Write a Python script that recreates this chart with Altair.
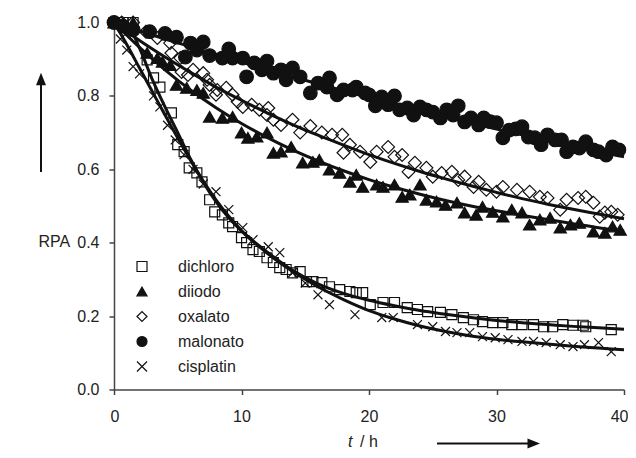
import altair as alt
import pandas as pd

series_names = ["dichloro", "diiodo", "oxalato", "malonato", "cisplatin"]

# measured points (t / h, RPA)
dichloro_pts = [(0, 1.0), (0.7, 1.0), (1.5, 1.0), (2.6, 0.898), (3.1, 0.849), (3.6, 0.824), (4.5, 0.754),
                (5.0, 0.667), (5.5, 0.648), (5.9, 0.604), (6.5, 0.59), (6.9, 0.566), (7.5, 0.517), (7.9, 0.484),
                (8.5, 0.476), (9.0, 0.454), (9.3, 0.444), (10.0, 0.414), (10.4, 0.40), (10.9, 0.381), (11.4, 0.376),
                (12.0, 0.359), (12.5, 0.346), (13.0, 0.332), (13.5, 0.327), (14.0, 0.318), (14.6, 0.321),
                (15.1, 0.294), (15.6, 0.294), (16.3, 0.291), (16.9, 0.28), (17.7, 0.272), (18.5, 0.267),
                (19.0, 0.264), (19.5, 0.264), (20.1, 0.231), (21.1, 0.237), (22.0, 0.237), (23.0, 0.223),
                (23.8, 0.218), (24.6, 0.212), (25.6, 0.21), (26.5, 0.204), (27.4, 0.196), (28.2, 0.19),
                (28.9, 0.185), (29.7, 0.182), (30.5, 0.182), (31.2, 0.177), (32.0, 0.177), (32.9, 0.177),
                (33.7, 0.171), (34.4, 0.171), (35.2, 0.177), (36.0, 0.175), (36.8, 0.175), (37.0, 0.171),
                (39.0, 0.163)]
diiodo_pts = [(0, 1.0), (0.7, 1.0), (1.5, 1.0), (2.6, 0.917), (3.4, 0.903), (3.8, 0.893), (4.4, 0.884),
              (4.9, 0.83), (5.7, 0.822), (6.5, 0.816), (7.0, 0.808), (7.5, 0.743), (8.5, 0.74), (9.3, 0.743),
              (10.0, 0.70), (10.5, 0.686), (11.2, 0.689), (12.0, 0.70), (12.5, 0.645), (13.1, 0.648),
              (13.9, 0.661), (14.8, 0.618), (15.6, 0.62), (16.1, 0.626), (16.9, 0.599), (17.7, 0.59),
              (18.5, 0.566), (19.0, 0.585), (19.5, 0.552), (20.6, 0.558), (21.1, 0.552), (22.0, 0.558),
              (22.6, 0.525), (23.2, 0.531), (24.0, 0.558), (24.5, 0.517), (25.3, 0.512), (26.0, 0.503),
              (26.9, 0.509), (27.5, 0.482), (28.4, 0.476), (28.9, 0.498), (29.7, 0.484), (30.5, 0.471),
              (31.2, 0.49), (32.0, 0.482), (32.6, 0.449), (33.4, 0.463), (34.2, 0.468), (35.0, 0.441),
              (35.8, 0.449), (36.5, 0.454), (37.6, 0.43), (38.5, 0.427), (39.1, 0.444), (39.7, 0.435)]
oxalato_pts = [(0, 1.0), (0.6, 1.0), (1.5, 1.0), (2.5, 0.975), (3.4, 0.958), (4.4, 0.944), (4.5, 0.917),
               (5.2, 0.903), (5.3, 0.865), (5.8, 0.857), (6.2, 0.871), (7.0, 0.862), (7.3, 0.844), (7.5, 0.83),
               (8.0, 0.803), (8.1, 0.816), (8.8, 0.822), (9.3, 0.803), (9.7, 0.784), (10.1, 0.77), (10.8, 0.776),
               (11.4, 0.762), (12.0, 0.748), (12.1, 0.767), (12.5, 0.735), (13.1, 0.721), (14.0, 0.735),
               (14.6, 0.70), (15.4, 0.718), (16.3, 0.70), (17.1, 0.694), (17.9, 0.694), (18.0, 0.645),
               (18.5, 0.667), (19.3, 0.648), (20.1, 0.62), (20.6, 0.648), (21.5, 0.661), (22.0, 0.634),
               (22.6, 0.639), (23.1, 0.593), (23.6, 0.618), (24.5, 0.604), (25.0, 0.58), (25.7, 0.59),
               (26.5, 0.593), (27.0, 0.571), (27.5, 0.58), (28.2, 0.552), (28.6, 0.566), (29.2, 0.544),
               (30.0, 0.539), (30.5, 0.552), (31.6, 0.544), (32.6, 0.539), (33.4, 0.525), (34.0, 0.522),
               (35.0, 0.49), (35.5, 0.517), (36.4, 0.522), (37.0, 0.525), (37.6, 0.509), (38.1, 0.471),
               (38.5, 0.482), (39.0, 0.484), (39.5, 0.476)]
malonato_pts = [(0, 1.0), (0.7, 0.99), (1.5, 0.98), (2.8, 0.975), (4.0, 0.97), (4.9, 0.96), (5.6, 0.906),
                (6.0, 0.944), (6.5, 0.925), (7.0, 0.947), (7.5, 0.91), (8.5, 0.903), (9.0, 0.928), (9.3, 0.903),
                (10.1, 0.903), (10.4, 0.852), (11.0, 0.89), (11.6, 0.871), (12.0, 0.895), (12.5, 0.862),
                (13.1, 0.871), (13.5, 0.844), (14.0, 0.876), (14.6, 0.852), (15.4, 0.808), (16.0, 0.835),
                (16.7, 0.824), (16.9, 0.849), (17.5, 0.803), (18.0, 0.816), (18.7, 0.816), (19.0, 0.824),
                (19.7, 0.808), (20.0, 0.803), (20.5, 0.773), (21.0, 0.797), (21.5, 0.776), (22.0, 0.80),
                (22.4, 0.762), (23.0, 0.767), (23.5, 0.748), (24.0, 0.77), (24.5, 0.762), (25.0, 0.756),
                (25.6, 0.74), (26.1, 0.762), (26.6, 0.748), (27.0, 0.773), (27.5, 0.729), (28.0, 0.74),
                (28.6, 0.721), (29.0, 0.74), (29.5, 0.73), (30.0, 0.727), (30.5, 0.686), (31.0, 0.707),
                (31.5, 0.71), (32.0, 0.716), (32.5, 0.688), (33.0, 0.686), (33.5, 0.667), (34.0, 0.694),
                (34.6, 0.68), (35.1, 0.68), (35.5, 0.648), (36.0, 0.661), (36.5, 0.658), (37.0, 0.675),
                (37.6, 0.653), (38.0, 0.648), (38.6, 0.639), (39.1, 0.661), (39.6, 0.653)]
cisplatin_pts = [(0, 1.0), (0.5, 0.955), (1.0, 0.925), (1.5, 0.88), (2.0, 0.86), (3.1, 0.80), (3.6, 0.77),
                 (4.2, 0.72), (4.8, 0.68), (5.5, 0.64), (6.2, 0.60), (7.0, 0.56), (8.0, 0.539), (9.0, 0.49),
                 (10.1, 0.441), (10.9, 0.408), (12.1, 0.389), (13.0, 0.373), (14.0, 0.318), (15.0, 0.29),
                 (16.0, 0.258), (16.9, 0.231), (18.9, 0.204), (21.0, 0.196), (21.9, 0.196), (23.8, 0.177),
                 (25.0, 0.171), (26.0, 0.158), (26.9, 0.155), (27.9, 0.155), (28.9, 0.144), (29.9, 0.141),
                 (30.9, 0.136), (32.0, 0.131), (32.9, 0.131), (33.9, 0.128), (35.0, 0.122), (36.0, 0.117),
                 (36.9, 0.122), (38.0, 0.128), (39.0, 0.103)]

# fitted curves
fit_t_long = [0, 2, 4, 6, 8, 10, 12, 14, 16, 18, 20, 22, 24, 26, 28, 30, 32, 34, 36, 38, 40]
malonato_fit = [1.0, 0.977, 0.955, 0.934, 0.913, 0.892, 0.872, 0.852, 0.833, 0.814, 0.796, 0.778, 0.76,
                0.743, 0.726, 0.71, 0.694, 0.678, 0.663, 0.648, 0.634]
oxalato_fit = [1.0, 0.951, 0.906, 0.864, 0.824, 0.788, 0.754, 0.722, 0.693, 0.666, 0.640, 0.616, 0.594,
               0.574, 0.555, 0.537, 0.520, 0.505, 0.491, 0.478, 0.465]
diiodo_fit = [1.0, 0.932, 0.871, 0.816, 0.768, 0.725, 0.687, 0.653, 0.623, 0.596, 0.572, 0.551, 0.532,
              0.515, 0.500, 0.487, 0.475, 0.463, 0.452, 0.441, 0.432]
fit_t_short = [0, 1, 2, 3, 4, 5, 6, 7, 8, 9, 10, 12, 14, 16, 18, 20, 22, 24, 26, 28, 30, 32, 34, 36, 38, 40]
dichloro_fit = [1.0, 0.995, 0.93, 0.845, 0.77, 0.70, 0.628, 0.565, 0.512, 0.468, 0.432, 0.375, 0.325, 0.288,
                0.262, 0.243, 0.228, 0.215, 0.205, 0.196, 0.188, 0.182, 0.177, 0.172, 0.168, 0.164]
cisplatin_fit = [1.0, 0.94, 0.876, 0.812, 0.748, 0.685, 0.625, 0.568, 0.517, 0.472, 0.433, 0.372, 0.322, 0.28,
                 0.245, 0.215, 0.192, 0.173, 0.158, 0.146, 0.137, 0.13, 0.124, 0.118, 0.113, 0.108]

x_ticks = [0, 10, 20, 30, 40]
y_ticks = [0.0, 0.2, 0.4, 0.6, 0.8, 1.0]

shapes = ["square", "triangle-up", "diamond", "circle", "M-1,-1L1,1M-1,1L1,-1"]
fills = ["transparent", "#111111", "transparent", "#111111", "transparent"]
strokes = ["#111111"] * 5
sizes = [100, 150, 165, 185, 80]

FONT = "Liberation Sans"
INK = "#111111"

pts_map = {"dichloro": dichloro_pts, "diiodo": diiodo_pts, "oxalato": oxalato_pts,
           "malonato": malonato_pts, "cisplatin": cisplatin_pts}
rows = []
for name in series_names:
    for t, v in pts_map[name]:
        rows.append({"series": name, "t": t, "v": v})
points_df = pd.DataFrame(rows)

fit_rows = []
for name, ts, vs in [("malonato", fit_t_long, malonato_fit), ("oxalato", fit_t_long, oxalato_fit),
                     ("diiodo", fit_t_long, diiodo_fit), ("dichloro", fit_t_short, dichloro_fit),
                     ("cisplatin", fit_t_short, cisplatin_fit)]:
    for t, v in zip(ts, vs):
        fit_rows.append({"series": name, "t": t, "v": v})
fits_df = pd.DataFrame(fit_rows)

x_enc = alt.X("t:Q", scale=alt.Scale(domain=[0, 40], nice=False, zero=False),
              axis=alt.Axis(values=x_ticks, title=None, format="d", labelPadding=14,
                            labelFlush=True, labelFlushOffset=4))
y_enc = alt.Y("v:Q", scale=alt.Scale(domain=[0, 1], nice=False),
              axis=alt.Axis(values=y_ticks, format=".1f", title="RPA", titleAngle=0, titleX=-76, titleY=218.5,
                            titleAlign="left", titleBaseline="middle", titleFontWeight="normal",
                            titleFontSize=16, titleFont=FONT, titleColor="#222222", labelPadding=10))

legend_def = alt.Legend(title=None, symbolStrokeWidth=1.2)
shape_enc = alt.Shape("series:N", scale=alt.Scale(domain=series_names, range=shapes), legend=legend_def)
fill_enc = alt.Fill("series:N", scale=alt.Scale(domain=series_names, range=fills), legend=legend_def)
stroke_enc = alt.Stroke("series:N", scale=alt.Scale(domain=series_names, range=strokes), legend=legend_def)

point_layers = []
for i, (name, sz) in enumerate(zip(series_names, sizes)):
    base = alt.Chart(points_df).transform_filter(alt.datum.series == name).mark_point(
        filled=True, strokeWidth=1.2, opacity=1, size=sz)
    common = dict(shape=shape_enc, fill=fill_enc, stroke=stroke_enc)
    if i == 0:
        layer = base.encode(x=x_enc, y=y_enc, **common)
    else:
        layer = base.encode(x=alt.X("t:Q"), y=alt.Y("v:Q"), **common)
    point_layers.append(layer)

lines = alt.Chart(fits_df).mark_line(color=INK, strokeWidth=3, interpolate="monotone").encode(
    x=alt.X("t:Q"), y=alt.Y("v:Q"), detail="series:N"
)

ann = pd.DataFrame({"k": [0]})
up_shaft = alt.Chart(ann).mark_rule(color=INK, strokeWidth=2).encode(
    x=alt.value(-73), y=alt.value(60), y2=alt.value(149.5))
up_head = alt.Chart(ann).mark_point(shape="M0,-1.25L-1,1.25L1,1.25Z", filled=True, color=INK, size=100,
                                    opacity=1).encode(x=alt.value(-73), y=alt.value(56.5))
right_shaft = alt.Chart(ann).mark_rule(color=INK, strokeWidth=2).encode(
    x=alt.value(323), x2=alt.value(416), y=alt.value(421))
right_head = alt.Chart(ann).mark_point(shape="M1.25,0L-1.25,-1L-1.25,1Z", filled=True, color=INK, size=100,
                                       opacity=1).encode(x=alt.value(419.75), y=alt.value(421))
t_text = alt.Chart(ann).mark_text(text="t", font=FONT, fontSize=16, fontStyle="italic", align="left",
                                  baseline="alphabetic", color="#222222").encode(x=alt.value(234), y=alt.value(424.5))
h_text = alt.Chart(ann).mark_text(text="/ h", font=FONT, fontSize=16, align="left",
                                  baseline="alphabetic", color="#222222").encode(x=alt.value(246), y=alt.value(424.5))

chart = alt.layer(*point_layers, lines, up_shaft, up_head, right_shaft, right_head, t_text, h_text).properties(
    width=510, height=367,
    autosize=alt.AutoSizeParams(type="none"),
    padding={"left": 106, "top": 14.5, "right": 4, "bottom": 60},
).configure_axis(
    labelFont=FONT, labelFontSize=16, labelColor="#222222", domainColor="#444444", tickColor="#444444",
    domainWidth=1.5, tickWidth=1.5, tickSize=5, grid=False,
).configure_legend(
    orient="none", legendX=20, legendY=236, labelFont=FONT, labelFontSize=16, labelColor="#222222",
    symbolSize=100, rowPadding=9, labelOffset=28, padding=0, symbolStrokeWidth=1.2,
).configure_view(stroke=None)

chart.save("out.html", embed_options={"renderer": "svg", "actions": False})
